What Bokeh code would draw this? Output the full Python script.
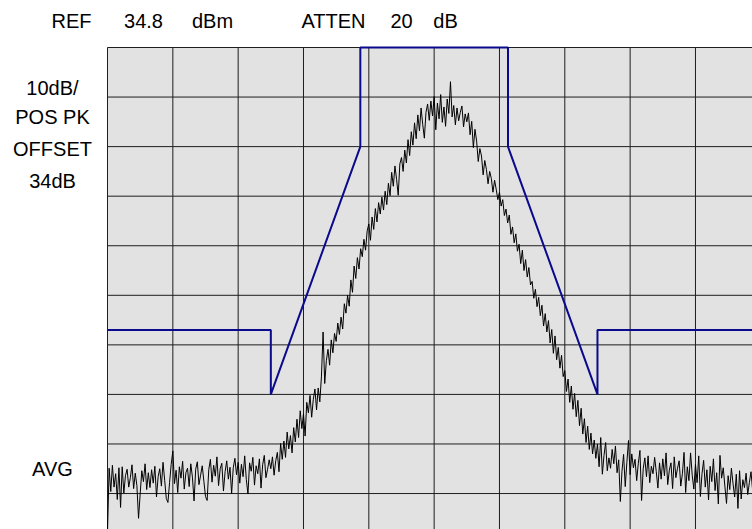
import numpy as np
from bokeh.plotting import figure
from bokeh.models import Range1d
from bokeh.core.properties import value
from bokeh.embed import file_html
from bokeh.resources import INLINE

# ---------------- data ----------------
REF_DBM = 34.8          # reference level (top graticule line)
DB_PER_DIV = 10
N_DIV = 10

header_labels = ["REF", "34.8", "dBm", "ATTEN", "20", "dB"]
side_labels = ["10dB/", "POS PK", "OFFSET", "34dB", "AVG"]

trace_db = [
    -63.0, -50.1, -54.8, -49.5, -53.9, -51.2, -56.4, -50.0, -58.0, -49.8, -55.1, -51.6, -50.3, -53.9, -52.0, -49.4, -54.2, -51.1, -53.6, -60.2,
    -55.3, -50.6, -52.8, -49.2, -54.4, -51.0, -54.0, -50.4, -53.1, -49.7, -55.9, -51.8, -50.2, -53.7, -48.9, -52.5, -56.2, -57.0, -53.0, -49.3,
    -46.6, -53.2, -50.5, -55.0, -49.8, -52.1, -48.7, -54.3, -51.0, -50.1, -53.8, -49.2, -51.9, -56.7, -50.3, -48.8, -53.4, -51.5, -49.6, -52.7,
    -55.8, -56.6, -50.4, -48.3, -52.9, -49.5, -51.7, -47.8, -53.6, -50.2, -49.1, -54.7, -50.8, -48.6, -52.3, -49.9, -55.2, -50.0, -48.1, -51.4,
    -48.9, -53.1, -49.3, -51.8, -47.6, -52.4, -55.3, -49.0, -50.7, -47.9, -53.5, -49.6, -51.2, -48.2, -54.1, -49.4, -47.5, -52.0, -50.3, -48.4,
    -50.2, -47.8, -51.5, -48.6, -46.9, -50.8, -45.1, -48.3, -44.6, -47.9, -42.8, -46.2, -43.5, -47.0, -41.9, -44.8, -40.2, -43.9, -38.5, -42.1,
    -39.1, -43.6, -36.8, -38.9, -35.4, -39.8, -36.2, -34.1, -38.3, -33.9, -36.7, -31.5, -22.6, -33.0, -28.4, -26.1, -29.3, -24.2, -26.8, -22.9,
    -24.5, -20.8, -23.1, -19.6, -22.0, -16.9, -18.8, -15.2, -17.4, -12.1, -14.6, -9.3, -11.8, -7.6, -9.9, -5.8, -7.4, -3.9, -6.1, -2.2,
    -0.8, -4.1, 0.6, -1.9, 2.3, -0.4, 3.5, 1.2, 4.6, 2.0, 5.8, 3.1, 7.4, 4.9, 9.6, 6.8, 10.9, 8.2, 5.0, 11.3,
    12.6, 9.8, 14.1, 11.5, 16.2, 13.0, 17.8, 15.1, 19.6, 16.4, 21.2, 18.0, 22.6, 19.3, 16.5, 21.7, 23.4, 20.1, 24.0, 21.0,
    24.9, 18.2, 23.6, 20.4, 25.3, 19.7, 22.8, 18.9, 24.4, 21.5, 27.9, 20.8, 23.1, 19.2, 22.6, 20.0, 21.7, 23.0, 18.8, 21.4,
    19.8, 21.6, 17.2, 19.9, 14.6, 18.3, 15.9, 11.8, 14.4, 12.9, 9.1, 12.0, 10.2, 7.3, 9.8, 8.4, 5.6, 8.0, 6.2, 4.1,
    5.6, 2.8, 4.1, 0.9, 2.2, -0.6, 1.0, -2.9, -1.4, -4.6, -2.8, -6.3, -4.9, -8.8, -6.1, -10.2, -8.0, -11.5, -9.6, -13.1,
    -12.4, -15.8, -14.0, -17.5, -15.6, -19.3, -17.2, -21.4, -18.9, -22.6, -20.3, -24.8, -22.1, -26.9, -23.4, -28.2, -25.7, -29.9, -27.3, -31.6,
    -30.4, -34.6, -32.1, -36.8, -33.5, -38.2, -35.0, -39.7, -36.4, -41.5, -38.0, -43.2, -40.1, -44.9, -41.6, -46.3, -43.0, -47.2, -44.4, -48.1,
    -45.2, -49.8, -43.9, -51.3, -47.5, -44.9, -50.6, -48.0, -50.1, -46.3, -49.2, -45.6, -51.0, -48.4, -56.8, -50.7, -47.3, -53.8, -48.9, -44.5,
    -51.4, -47.2, -50.0, -48.3, -52.6, -49.1, -46.5, -56.6, -50.2, -48.0, -51.8, -47.6, -53.0, -49.7, -51.2, -47.9, -50.8, -54.1, -49.0, -52.3,
    -48.2, -51.6, -47.0, -53.4, -50.5, -49.0, -54.2, -47.8, -52.0, -50.1, -48.6, -53.7, -51.2, -46.9, -55.0, -49.8, -52.6, -47.0, -51.5, -54.3,
    -49.3, -53.0, -47.6, -55.8, -51.2, -48.5, -53.9, -50.4, -56.5, -49.7, -52.8, -48.2, -54.6, -51.0, -57.3, -47.5, -52.1, -50.0, -53.7, -57.2,
    -51.6, -54.4, -50.1, -53.2, -55.9, -51.3, -58.2, -50.6, -56.3, -52.4, -54.0, -51.1, -55.4, -53.0, -50.8, -54.6, -52.2, -55.1, -51.9, -53.6, -52.5,
]

# spectral emission mask (x in graticule divisions, y in dBm)
mask_x_div = [0.0, 2.5, 2.5, 3.87, 3.87, 6.13, 6.13, 7.5, 7.5, 10.0]
mask_db = [-22.2, -22.2, -35.2, 14.8, 34.8, 34.8, 14.8, -35.2, -22.2, -22.2]

# ---------------- layout ----------------
W, H = 752, 529
GRAT_LEFT_PX, GRAT_TOP_PX = 107, 47      # graticule origin on the canvas
PX_PER_DIV_X = 65.33
PX_PER_DIV_Y = 49.56
PX_PER_DB = PX_PER_DIV_Y / DB_PER_DIV


def dx(px):
    return (px - GRAT_LEFT_PX) / PX_PER_DIV_X


def dy(py):
    return REF_DBM - (py - GRAT_TOP_PX) / PX_PER_DB


p = figure(width=W, height=H, output_backend="svg", toolbar_location=None,
           x_range=Range1d(dx(0), dx(W)), y_range=Range1d(dy(H), dy(0)),
           min_border=0, background_fill_color="white",
           border_fill_color="white", outline_line_color=None)
p.xaxis.visible = False
p.yaxis.visible = False
p.xgrid.visible = False
p.ygrid.visible = False

bottom_db = REF_DBM - DB_PER_DIV * N_DIV
# graticule background
p.quad(left=[0], right=[N_DIV], bottom=[bottom_db], top=[REF_DBM],
       fill_color="#e2e2e2", line_color=None)

# graticule lines
vx = list(range(N_DIV + 1))
p.segment(x0=vx, y0=[bottom_db] * len(vx), x1=vx, y1=[REF_DBM] * len(vx),
          line_color="#1e1e1e", line_width=1)
hy = [REF_DBM - DB_PER_DIV * k for k in range(N_DIV + 1)]
p.segment(x0=[0] * len(hy), y0=hy, x1=[N_DIV] * len(hy), y1=hy,
          line_color="#1e1e1e", line_width=1)

sweep_x = np.linspace(0, N_DIV, len(trace_db))
p.line(sweep_x, trace_db, line_color="black", line_width=1)
p.line(mask_x_div, mask_db, line_color="#0a0a8c", line_width=2)

FONT = value("Liberation Sans")
FS = value("20px")
header_px = [71, 143, 212, 333, 401, 445]
p.text(x=[dx(v) for v in header_px], y=[dy(20)] * len(header_px),
       text=header_labels, text_font=FONT, text_font_size=FS,
       text_align="center", text_baseline="middle", text_color="black")
side_py = [87, 116, 148, 180, 468]
p.text(x=[dx(52)] * len(side_py), y=[dy(v) for v in side_py],
       text=side_labels, text_font=FONT, text_font_size=FS,
       text_align="center", text_baseline="middle", text_color="black")

open("out.html", "w").write(file_html(p, INLINE))
